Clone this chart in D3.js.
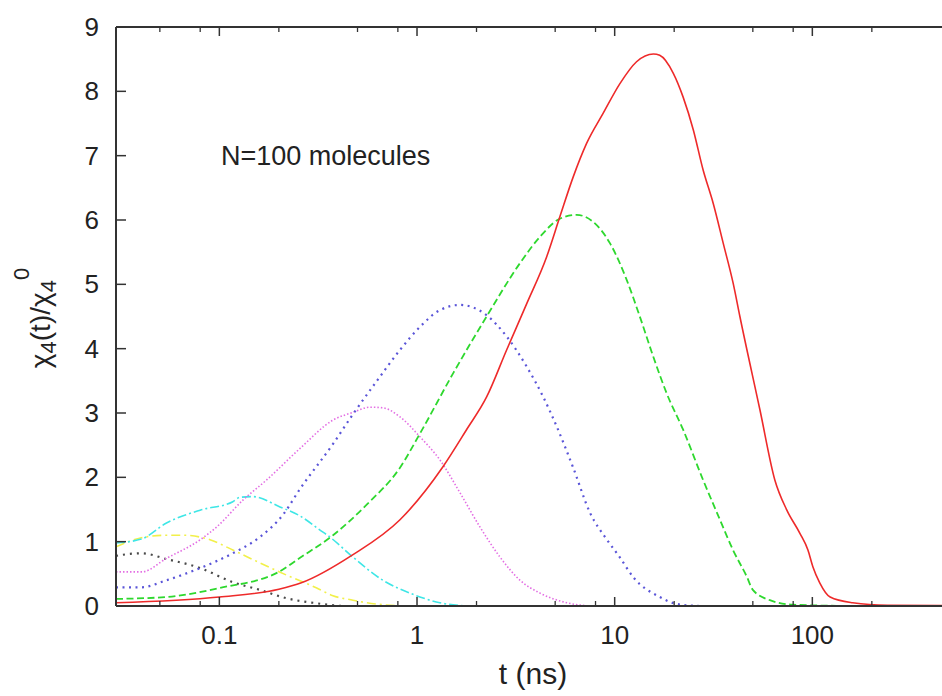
<!DOCTYPE html>
<html lang="en">
<head>
<meta charset="UTF-8">
<title>chi4 vs t</title>
<script src="https://d3js.org/d3.v7.min.js"></script>
<style>
  body { margin: 0; background: #fff; }
  text { font-family: "Liberation Sans", Arial, sans-serif; fill: #222; }
</style>
</head>
<body>
<div id="chart"></div>
<script>
// time (ns) and chi4 ratio
const tRed   = [0.03,0.1,0.2,0.26,0.47,0.82,1.35,1.78,2.25,2.84,3.59,4.53,5.28,6.17,7.21,8.75,10.63,12.9,15.7,16.9,19.8,22.2,25,28,31.5,35.4,39.8,43,54.3,64.6,74.3,86.5,95,100.6,109,123,160,240,1000];
const vRed   = [0.05,0.14,0.26,0.36,0.79,1.34,2.16,2.74,3.25,3.98,4.70,5.43,6.05,6.67,7.19,7.66,8.12,8.46,8.58,8.56,8.28,7.91,7.40,6.78,6.26,5.64,5.01,4.50,3.05,1.96,1.49,1.13,0.87,0.61,0.36,0.14,0.05,0.01,0];

const tGreen = [0.03,0.054,0.1,0.2,0.256,0.376,0.558,0.82,1.035,1.525,2.25,3.32,4.19,5.28,6.42,7.79,9.46,11.5,13.4,15.7,18.3,22.2,28,34.1,39.7,46.7,50,61,79.7,160];
const vGreen = [0.11,0.14,0.28,0.53,0.75,1.10,1.58,2.15,2.68,3.62,4.50,5.33,5.74,6.02,6.08,5.97,5.64,5.07,4.50,3.87,3.31,2.74,1.96,1.34,0.87,0.45,0.25,0.09,0.02,0];

const tBlue  = [0.03,0.0403,0.054,0.08,0.117,0.16,0.21,0.256,0.376,0.474,0.627,0.82,1.035,1.306,1.65,2.25,2.84,3.59,4.35,5.09,6.15,7.5,9.14,10.6,12.4,16.9,20.7,27];
const vBlue  = [0.29,0.29,0.40,0.59,0.82,1.07,1.42,1.82,2.52,2.98,3.50,3.98,4.34,4.60,4.68,4.52,4.19,3.72,3.25,2.79,2.16,1.45,1.03,0.76,0.45,0.14,0.03,0];

const tMag   = [0.03,0.0405,0.054,0.08,0.097,0.132,0.1735,0.256,0.376,0.474,0.578,0.672,0.82,1.035,1.306,1.65,2.08,2.63,3.32,4.19,5.73,7.5];
const vMag   = [0.53,0.53,0.74,1.03,1.23,1.65,1.96,2.45,2.89,3.01,3.09,3.08,2.94,2.63,2.27,1.76,1.23,0.76,0.40,0.20,0.05,0];

const tCyan  = [0.03,0.0403,0.054,0.08,0.117,0.127,0.148,0.2026,0.256,0.323,0.363,0.474,0.672,0.921,1.306,1.79];
const vCyan  = [0.98,1.04,1.29,1.49,1.62,1.69,1.70,1.54,1.40,1.18,1.07,0.76,0.40,0.20,0.05,0];

const tYel   = [0.03,0.0403,0.054,0.0655,0.0897,0.117,0.1605,0.219,0.311,0.3755,0.474,0.558,0.82];
const vYel   = [0.92,1.06,1.10,1.10,1.03,0.87,0.67,0.48,0.28,0.16,0.09,0.05,0];

const tBlack = [0.03,0.0353,0.0403,0.054,0.08,0.117,0.1605,0.219,0.2976,0.44,1.0];
const vBlack = [0.78,0.81,0.82,0.73,0.59,0.37,0.25,0.12,0.05,0,0];

const xMajor = [0.1, 1, 10, 100];
const xMajorLabels = ["0.1", "1", "10", "100"];
const xMinor = [0.05,0.08,0.2,0.5,0.8,2,5,8,20,50,80,200,500,800];
const yTicks = [0,1,2,3,4,5,6,7,8,9];

const W = 942, H = 696;
const svg = d3.select("#chart").append("svg")
    .attr("width", W)
    .attr("height", H);

const x = d3.scaleLog().domain([0.03, 1000]).range([116, 1010]);
const y = d3.scaleLinear().domain([0, 9]).range([606, 27]);

svg.append("clipPath").attr("id", "clip")
  .append("rect").attr("x", 116).attr("y", 20).attr("width", 900).attr("height", 588);

// series, drawn back to front
const series = [
  {t: tBlack, v: vBlack, color: "#4a4a4a", dash: "2,5",       w: 2.2},
  {t: tYel,   v: vYel,   color: "#f2f04a", dash: "9,4,2,4",   w: 1.6},
  {t: tCyan,  v: vCyan,  color: "#3ee6e6", dash: "9,3,2,3",   w: 1.6},
  {t: tMag,   v: vMag,   color: "#e36ee3", dash: "1.5,2",     w: 1.6},
  {t: tBlue,  v: vBlue,  color: "#5a55d8", dash: "2,4.5",     w: 2.2},
  {t: tGreen, v: vGreen, color: "#2ed82e", dash: "7,3.5",     w: 1.8},
  {t: tRed,   v: vRed,   color: "#ee2a2a", dash: null,        w: 1.6}
];

const line = d3.line()
    .x(d => x(d[0]))
    .y(d => y(d[1]))
    .curve(d3.curveMonotoneX);

const plot = svg.append("g").attr("clip-path", "url(#clip)");
series.forEach(s => {
  plot.append("path")
      .datum(s.t.map((t, i) => [t, s.v[i]]))
      .attr("d", line)
      .attr("fill", "none")
      .attr("stroke", s.color)
      .attr("stroke-width", s.w)
      .attr("stroke-dasharray", s.dash);
});

// frame and ticks (gnuplot style, mirrored on top)
const ax = svg.append("g").attr("stroke", "#333");
ax.append("line").attr("x1", 116).attr("x2", W).attr("y1", 606).attr("y2", 606).attr("stroke-width", 2);
ax.append("line").attr("x1", 116).attr("x2", W).attr("y1", 27).attr("y2", 27).attr("stroke-width", 2);
ax.append("line").attr("x1", 116).attr("x2", 116).attr("y1", 27).attr("y2", 606).attr("stroke-width", 2);

ax.selectAll(".xmaj").data(xMajor.concat([1000])).enter().each(function(d) {
  const g = d3.select(this);
  g.append("line").attr("x1", x(d)).attr("x2", x(d)).attr("y1", 606).attr("y2", 597).attr("stroke-width", 1.5);
  g.append("line").attr("x1", x(d)).attr("x2", x(d)).attr("y1", 27).attr("y2", 36).attr("stroke-width", 1.5);
});
ax.selectAll(".xmin").data(xMinor).enter().each(function(d) {
  const g = d3.select(this);
  g.append("line").attr("x1", x(d)).attr("x2", x(d)).attr("y1", 606).attr("y2", 601).attr("stroke-width", 1.3);
  g.append("line").attr("x1", x(d)).attr("x2", x(d)).attr("y1", 27).attr("y2", 32).attr("stroke-width", 1.3);
});
ax.selectAll(".ytick").data(yTicks).enter().append("line")
    .attr("x1", 116).attr("x2", 126)
    .attr("y1", d => y(d)).attr("y2", d => y(d))
    .attr("stroke-width", 1.5);

// tick labels
svg.selectAll(".ylab").data(yTicks).enter().append("text")
    .attr("x", 99).attr("y", d => y(d) + 9)
    .attr("text-anchor", "end")
    .attr("font-size", 26)
    .text(d => d);

svg.selectAll(".xlab").data(xMajor).enter().append("text")
    .attr("x", d => x(d)).attr("y", 644)
    .attr("text-anchor", "middle")
    .attr("font-size", 26)
    .text((d, i) => xMajorLabels[i]);

// titles
svg.append("text")
    .attr("x", 533).attr("y", 684)
    .attr("text-anchor", "middle")
    .attr("font-size", 30)
    .text("t (ns)");

const yt = svg.append("text")
    .attr("transform", "translate(50,318) rotate(-90)")
    .attr("text-anchor", "middle")
    .attr("font-size", 28);
yt.append("tspan").text("\u03c7");
yt.append("tspan").attr("dy", 6).attr("font-size", 22).text("4");
yt.append("tspan").attr("dy", -6).text("(t)/\u03c7");
yt.append("tspan").attr("dy", 6).attr("font-size", 22).text("4");
yt.append("tspan").attr("dy", -27).attr("font-size", 22).text("0");

svg.append("text")
    .attr("x", 221).attr("y", 165)
    .attr("font-size", 27)
    .text("N=100 molecules");
</script>
</body>
</html>
